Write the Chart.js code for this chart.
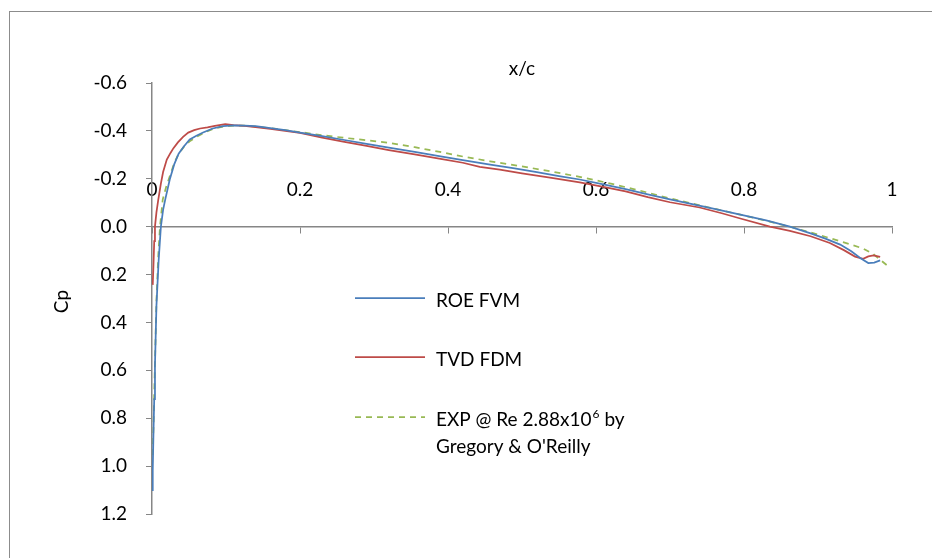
<!DOCTYPE html>
<html>
<head>
<meta charset="utf-8">
<script src="https://cdn.jsdelivr.net/npm/chart.js@4.4.1/dist/chart.umd.min.js"></script>
<style>
  html, body { margin: 0; padding: 0; background: #fff; }
  canvas { display: block; }
</style>
</head>
<body>
<canvas id="cpChart" width="932" height="558"></canvas>
<script>
// x/c stations and Cp values
const roeX  = [0, 0.001, 0.002, 0.003, 0.004, 0.006, 0.009, 0.012, 0.015, 0.018, 0.024, 0.030, 0.036, 0.043, 0.051, 0.060, 0.069, 0.082, 0.096, 0.110, 0.125, 0.140, 0.160, 0.180, 0.200, 0.230, 0.260, 0.290, 0.320, 0.355, 0.390, 0.420, 0.457, 0.490, 0.520, 0.550, 0.578, 0.610, 0.640, 0.670, 0.700, 0.730, 0.760, 0.795, 0.830, 0.862, 0.890, 0.910, 0.930, 0.945, 0.957, 0.968, 0.976, 0.984];
const roeCp = [1.10, 1.02, 0.86, 0.72, 0.58, 0.33, 0.14, 0.0, -0.07, -0.115, -0.197, -0.26, -0.305, -0.335, -0.364, -0.38, -0.393, -0.41, -0.42, -0.423, -0.422, -0.42, -0.412, -0.403, -0.393, -0.378, -0.362, -0.346, -0.330, -0.312, -0.294, -0.278, -0.259, -0.243, -0.228, -0.211, -0.197, -0.177, -0.157, -0.135, -0.114, -0.094, -0.074, -0.050, -0.026, 0.0, 0.028, 0.050, 0.075, 0.103, 0.131, 0.152, 0.150, 0.141];

const tvdX  = [0.001, 0.002, 0.003, 0.004, 0.006, 0.0085, 0.012, 0.015, 0.020, 0.025, 0.029, 0.035, 0.042, 0.049, 0.057, 0.065, 0.075, 0.085, 0.099, 0.110, 0.125, 0.140, 0.160, 0.180, 0.200, 0.230, 0.260, 0.290, 0.320, 0.355, 0.390, 0.420, 0.443, 0.470, 0.500, 0.540, 0.578, 0.610, 0.640, 0.670, 0.700, 0.740, 0.770, 0.795, 0.835, 0.862, 0.890, 0.916, 0.935, 0.950, 0.961, 0.968, 0.975, 0.984];
const tvdCp = [0.243, 0.16, 0.06, 0.0, -0.06, -0.113, -0.18, -0.228, -0.28, -0.308, -0.328, -0.352, -0.375, -0.393, -0.403, -0.410, -0.415, -0.421, -0.428, -0.424, -0.421, -0.416, -0.408, -0.400, -0.392, -0.372, -0.354, -0.337, -0.320, -0.302, -0.283, -0.267, -0.250, -0.238, -0.223, -0.204, -0.185, -0.166, -0.147, -0.123, -0.102, -0.080, -0.056, -0.034, 0.0, 0.018, 0.040, 0.068, 0.098, 0.125, 0.134, 0.124, 0.120, 0.126];

const expX  = [0, 0.001, 0.002, 0.003, 0.004, 0.006, 0.0085, 0.0108, 0.0145, 0.019, 0.024, 0.030, 0.036, 0.043, 0.051, 0.060, 0.069, 0.082, 0.096, 0.110, 0.125, 0.140, 0.160, 0.180, 0.200, 0.230, 0.260, 0.290, 0.320, 0.355, 0.389, 0.420, 0.457, 0.500, 0.540, 0.578, 0.620, 0.660, 0.700, 0.750, 0.795, 0.830, 0.862, 0.900, 0.930, 0.960, 0.975, 0.995];
const expCp = [1.00, 0.93, 0.84, 0.70, 0.57, 0.31, 0.12, 0.0, -0.113, -0.165, -0.21, -0.265, -0.305, -0.333, -0.357, -0.375, -0.390, -0.408, -0.418, -0.422, -0.422, -0.418, -0.411, -0.403, -0.395, -0.382, -0.371, -0.361, -0.350, -0.332, -0.312, -0.293, -0.273, -0.252, -0.230, -0.208, -0.180, -0.150, -0.118, -0.082, -0.050, -0.025, 0.0, 0.033, 0.061, 0.090, 0.115, 0.166];

const xTicks = [0, 0.2, 0.4, 0.6, 0.8, 1];
const yTicks = [-0.6, -0.4, -0.2, 0.0, 0.2, 0.4, 0.6, 0.8, 1.0, 1.2];

const seriesNames = ['ROE FVM', 'TVD FDM', 'EXP @ Re 2.88x10^6 by\nGregory & O\'Reilly'];
const xTitle = 'x/c';
const yTitle = 'Cp';

const fontFamily = 'Lato, "Open Sans", sans-serif';
const axisGray = '#868686';

function toPoints(xs, ys) {
    return xs.map((x, i) => ({ x: x, y: ys[i] }));
}

// white page, grey outer frame and the two axis titles
const framePlugin = {
    id: 'frame',
    beforeDraw(chart) {
        const ctx = chart.ctx;
        ctx.save();
        ctx.fillStyle = '#fff';
        ctx.fillRect(0, 0, chart.width, chart.height);
        ctx.strokeStyle = '#8c8c8c';
        ctx.lineWidth = 1;
        ctx.strokeRect(9.5, 11.5, chart.width + 10, chart.height + 10);
        ctx.restore();
    },
    afterDraw(chart) {
        const ctx = chart.ctx;
        const area = chart.chartArea;
        ctx.save();
        ctx.fillStyle = '#000';
        ctx.font = '19px ' + fontFamily;
        ctx.textAlign = 'center';
        ctx.textBaseline = 'middle';
        ctx.fillText(xTitle, (area.left + area.right) / 2, 69);
        ctx.translate(62, (area.top + area.bottom) / 2 + 3);
        ctx.rotate(-Math.PI / 2);
        ctx.fillText(yTitle, 0, 0);
        ctx.restore();
    }
};

// legend sitting inside the plot, one row per series
const legendPlugin = {
    id: 'insideLegend',
    afterDraw(chart) {
        const ctx = chart.ctx;
        const rows = [298, 357, 417];
        ctx.save();
        chart.data.datasets.forEach((ds, i) => {
            const y = rows[i];
            ctx.strokeStyle = ds.borderColor;
            ctx.lineWidth = ds.borderWidth;
            ctx.setLineDash(ds.borderDash || []);
            ctx.beginPath();
            ctx.moveTo(355, y);
            ctx.lineTo(425, y);
            ctx.stroke();
            ctx.setLineDash([]);

            ctx.fillStyle = '#000';
            ctx.textAlign = 'left';
            ctx.textBaseline = 'middle';
            const lines = ds.label.split('\n');
            lines.forEach((line, j) => {
                let tx = 436;
                const ty = y + 3 + j * 27;
                const parts = line.split('^');
                ctx.font = '19px ' + fontFamily;
                ctx.fillText(parts[0], tx, ty);
                tx += ctx.measureText(parts[0]).width;
                if (parts.length > 1) {
                    const sup = parts[1].charAt(0);
                    ctx.font = '12px ' + fontFamily;
                    ctx.fillText(sup, tx + 1, ty - 6);
                    tx += ctx.measureText(sup).width + 1;
                    ctx.font = '19px ' + fontFamily;
                    ctx.fillText(parts[1].slice(1), tx, ty);
                }
            });
        });
        ctx.restore();
    }
};

const tickFont = { family: fontFamily, size: 19 };

new Chart(document.getElementById('cpChart'), {
    type: 'scatter',
    data: {
        datasets: [{
            label: seriesNames[0],
            data: toPoints(roeX, roeCp),
            borderColor: '#4A7EBB',
            borderWidth: 1.75,
            showLine: true,
            pointRadius: 0,
            tension: 0,
        }, {
            label: seriesNames[1],
            data: toPoints(tvdX, tvdCp),
            borderColor: '#BE4B48',
            borderWidth: 1.75,
            showLine: true,
            pointRadius: 0,
            tension: 0,
        }, {
            label: seriesNames[2],
            data: toPoints(expX, expCp),
            borderColor: '#98B954',
            borderWidth: 1.75,
            borderDash: [6, 5],
            showLine: true,
            pointRadius: 0,
            tension: 0,
        }],
    },
    options: {
        responsive: false,
        devicePixelRatio: 1,
        animation: false,
        layout: {
            padding: { left: 92, right: 40, top: 83, bottom: 44 },
        },
        plugins: {
            legend: { display: false },
            title: { display: false },
            tooltip: { enabled: false },
        },
        scales: {
            x: {
                type: 'linear',
                position: { y: 0 },
                min: 0,
                max: 1,
                afterBuildTicks: (s) => { s.ticks = xTicks.map(v => ({ value: v })); },
                grid: { drawOnChartArea: false, tickLength: 6, color: axisGray, lineWidth: 1 },
                border: { color: axisGray, width: 1.5 },
                ticks: {
                    padding: -54,
                    color: '#000',
                    font: tickFont,
                    maxRotation: 0,
                    callback: (v) => String(v),
                },
            },
            y: {
                type: 'linear',
                position: 'left',
                reverse: true,
                min: -0.6,
                max: 1.2,
                afterBuildTicks: (s) => { s.ticks = yTicks.map(v => ({ value: v })); },
                afterFit: (s) => { s.width = 60; },
                grid: { drawOnChartArea: false, tickLength: 6, color: axisGray, lineWidth: 1 },
                border: { color: axisGray, width: 1.5 },
                ticks: {
                    padding: 19,
                    color: '#000',
                    font: tickFont,
                    callback: (v) => v.toFixed(1),
                },
            },
        },
    },
    plugins: [framePlugin, legendPlugin],
});
</script>
</body>
</html>
